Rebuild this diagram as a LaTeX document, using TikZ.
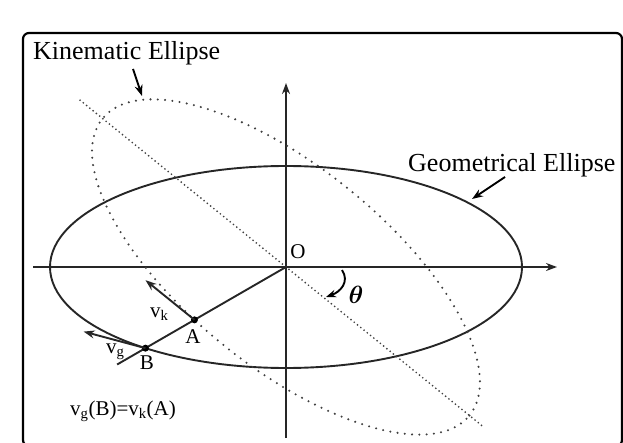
\documentclass[tikz,border=0pt]{standalone}
\usepackage{fontspec}
\usepackage{bm}
\setmainfont{Liberation Serif}
\usetikzlibrary{arrows.meta,calc}
\begin{document}
\begin{tikzpicture}[x=1pt,y=1pt,
  solidline/.style={line width=1.9pt, black!85},
  dotline/.style={line width=2.3pt, line cap=round, dash pattern=on 0pt off 7.3pt, black!75},
  dotaxis/.style={line width=1.9pt, line cap=round, dash pattern=on 0pt off 4.2pt, black!75},
  tipped/.style={-{Stealth[length=11pt,width=8pt]}},
  lbl/.style={font=\fontsize{21}{25}\selectfont, inner sep=0pt},
  big/.style={font=\fontsize{26}{30}\selectfont, inner sep=0pt},
  dotpt/.style={circle, fill, inner sep=0pt, minimum size=7pt}]
\useasboundingbox (0,0) rectangle (623,442);
\clip (0,0) rectangle (623,442);
% frame
\draw[line width=2.2pt, rounded corners=6pt] (23,-4) rectangle (622,409);
% origin and axes
\coordinate (O) at (286,175);
\coordinate (XL) at (33,175);
\coordinate (XR) at (557,175);
\coordinate (YB) at (286,4);
\coordinate (YT) at (286,359);
\draw[solidline, tipped] (XL) -- (XR);
\draw[solidline, tipped] (YB) -- (YT);
% geometrical ellipse
\draw[solidline] (O) ellipse [x radius=236, y radius=101];
% kinematic ellipse
\draw[dotline, rotate around={-39:(O)}] (O) ellipse [x radius=236, y radius=100];
\coordinate (K1) at ($(O)+(141:265)$);
\coordinate (K2) at ($(O)+(-39:252)$);
\draw[dotaxis] (K1) -- (K2);
% points A and B
\coordinate (E) at ($(O)+(210:195)$);
\draw[solidline] (O) -- (E);
\node[dotpt] (A) at ($(O)+(210:105.7)$) {};
\node[dotpt] (B) at ($(O)+(210:162.3)$) {};
\coordinate (Vk) at ($(A)+(141:63)$);
\coordinate (Vg) at ($(B)+(165:64)$);
\draw[solidline, tipped] (A.center) -- (Vk);
\draw[solidline, tipped] (B.center) -- (Vg);
% labels
\node[lbl] (lO) at (298,190) {O};
\node[lbl] (lA) at (193,105) {A};
\node[lbl] (lB) at (147,79) {B};
\node[lbl, anchor=base west] (lvk) at (150,125) {v\textsubscript{k}};
\node[lbl, anchor=base west] (lvg) at (106,89) {v\textsubscript{g}};
\node[lbl, anchor=base west] (eq) at (70,27) {v\textsubscript{g}(B)=v\textsubscript{k}(A)};
% titles
\node[big, anchor=base west] (kin) at (33,382) {Kinematic Ellipse};
\node[big, anchor=base west] (geo) at (408,270) {Geometrical Ellipse};
\coordinate (ka1) at (133,373);
\coordinate (ka2) at (142,346);
\draw[line width=1.9pt, tipped] (ka1) -- (ka2);
\coordinate (ga1) at (505,265);
\coordinate (ga2) at (472,243);
\draw[line width=1.9pt, tipped] (ga1) -- (ga2);
% theta
\node[inner sep=0pt] (th) at (356,147) {\fontsize{29}{32}\selectfont$\bm{\theta}$};
\coordinate (t1) at (342,172);
\coordinate (t2) at (326,145);
\draw[line width=1.9pt, -{Stealth[length=10pt,width=7.5pt]}] (t1) .. controls (350,160) and (340,150) .. (t2);
\end{tikzpicture}
\end{document}
